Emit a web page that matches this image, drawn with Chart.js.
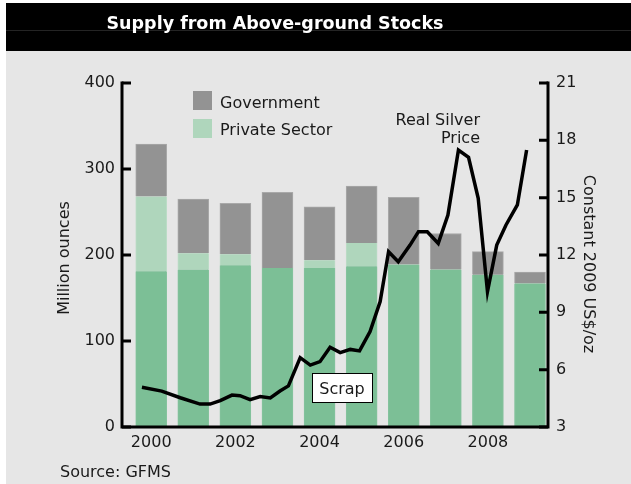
<!DOCTYPE html>
<html><head><meta charset="utf-8">
<script src="https://cdn.jsdelivr.net/npm/chart.js@4"></script>
<style>html,body{margin:0;padding:0;background:#fff;overflow:hidden}canvas{display:block}</style>
</head><body>
<canvas id="c" width="631" height="484"></canvas>
<script>
// ---- data ----
const years = [2000, 2001, 2002, 2003, 2004, 2005, 2006, 2007, 2008, 2009];
const scrap = [181, 183, 188, 185, 185, 187, 189, 183, 177, 167];
const privateSector = [87, 19, 13, 0, 9, 27, 0, 0, 0, 0];
const government = [61, 63, 59, 88, 62, 66, 78, 42, 27, 13];

const priceX = [1999.78, 2000.25, 2000.69, 2001.16, 2001.40, 2001.64, 2001.92, 2002.11, 2002.35, 2002.59,
  2002.83, 2003.06, 2003.26, 2003.54, 2003.78, 2004.01, 2004.25, 2004.49, 2004.73, 2004.95,
  2005.20, 2005.44, 2005.64, 2005.87, 2006.15, 2006.35, 2006.56, 2006.82, 2007.05, 2007.30,
  2007.54, 2007.77, 2007.99, 2008.21, 2008.43, 2008.70, 2008.92];
const priceY = [5.08, 4.88, 4.53, 4.20, 4.20, 4.38, 4.67, 4.64, 4.43, 4.59,
  4.52, 4.88, 5.15, 6.63, 6.24, 6.42, 7.17, 6.89, 7.06, 6.98,
  7.99, 9.56, 12.17, 11.65, 12.52, 13.22, 13.22, 12.61, 14.09, 17.49,
  17.11, 14.97, 10.08, 12.52, 13.57, 14.62, 17.49];

const xTicks = [2000, 2002, 2004, 2006, 2008];
const leftTicks = [0, 100, 200, 300, 400];
const rightTicks = [3, 6, 9, 12, 15, 18, 21];

const titleText = 'Supply from Above-ground Stocks';
const leftTitle = 'Million ounces';
const rightTitle = 'Constant 2009 US$/oz';
const sourceText = 'Source: GFMS';

// ---- styles ----
const FONT = '"DejaVu Sans", Verdana, sans-serif';
const C_SCRAP = '#7cbf96';
const C_PRIV = '#afd6bc';
const C_GOV = '#939393';
const TXT = '#1a1a1a';
const FS = 16;

const deco = {
  id: 'deco',
  beforeDraw(chart) {
    const ctx = chart.ctx;
    ctx.save();
    ctx.fillStyle = '#ffffff'; ctx.fillRect(0, 0, 631, 484);
    ctx.fillStyle = '#e6e6e6'; ctx.fillRect(6, 3, 625, 481);
    ctx.fillStyle = '#000000'; ctx.fillRect(6, 3, 625, 48);
    ctx.fillStyle = '#242424'; ctx.fillRect(6, 30, 625, 1);
    ctx.fillStyle = '#ffffff';
    ctx.font = 'bold 17.5px ' + FONT;
    ctx.textAlign = 'center'; ctx.textBaseline = 'alphabetic';
    ctx.fillText(titleText, 275, 29);
    ctx.restore();
  },
  afterDraw(chart) {
    const ctx = chart.ctx;
    const a = chart.chartArea;
    const yS = chart.scales.y, y2S = chart.scales.y2;
    ctx.save();
    // axes
    ctx.strokeStyle = '#000'; ctx.lineWidth = 3; ctx.lineCap = 'butt';
    ctx.beginPath();
    ctx.moveTo(a.left, a.top - 1.5); ctx.lineTo(a.left, a.bottom);
    ctx.lineTo(a.right, a.bottom); ctx.lineTo(a.right, a.top - 1.5);
    ctx.stroke();
    ctx.beginPath();
    leftTicks.forEach(v => { const y = yS.getPixelForValue(v); ctx.moveTo(a.left, y); ctx.lineTo(a.left + 9, y); });
    rightTicks.forEach(v => { const y = y2S.getPixelForValue(v); ctx.moveTo(a.right, y); ctx.lineTo(a.right - 9, y); });
    ctx.stroke();

    ctx.fillStyle = TXT;
    ctx.font = FS + 'px ' + FONT;
    ctx.textBaseline = 'alphabetic';
    // legend
    ctx.fillStyle = C_GOV; ctx.fillRect(193, 91, 19, 19);
    ctx.fillStyle = C_PRIV; ctx.fillRect(193, 119, 19, 19);
    ctx.fillStyle = TXT; ctx.textAlign = 'left';
    ctx.fillText('Government', 220, 107.5);
    ctx.fillText('Private Sector', 220, 135.3);
    // Real Silver Price label
    ctx.textAlign = 'right';
    ctx.fillText('Real Silver', 480, 125);
    ctx.fillText('Price', 480, 143.3);
    // Scrap box
    ctx.fillStyle = '#ffffff'; ctx.fillRect(312, 373.5, 60, 29);
    ctx.strokeStyle = '#000'; ctx.lineWidth = 1; ctx.strokeRect(312.5, 373.5, 60, 29);
    ctx.fillStyle = TXT; ctx.textAlign = 'center';
    ctx.fillText('Scrap', 342, 393.5);
    // source
    ctx.textAlign = 'left';
    ctx.fillText(sourceText, 60, 476.7);
    // axis titles
    ctx.textAlign = 'center'; ctx.textBaseline = 'middle';
    ctx.save(); ctx.translate(65, 258); ctx.rotate(-Math.PI / 2); ctx.fillText(leftTitle, 0, 0); ctx.restore();
    ctx.save(); ctx.translate(588, 264); ctx.rotate(Math.PI / 2); ctx.fillText(rightTitle, 0, 0); ctx.restore();
    ctx.restore();
  }
};

const pts = (xs, ys) => xs.map((x, i) => ({ x: x, y: ys[i] }));
const sideBorder = { left: 1, right: 1, top: 0, bottom: 0 };
const topBorder = { left: 1, right: 1, top: 1, bottom: 0 };

new Chart(document.getElementById('c'), {
  type: 'bar',
  data: {
    datasets: [
      { type: 'bar', label: 'Scrap', data: pts(years, scrap), backgroundColor: C_SCRAP, borderColor: '#86c39e', borderWidth: sideBorder, borderSkipped: false, barThickness: 31, order: 1, yAxisID: 'y', xAxisID: 'x' },
      { type: 'bar', label: 'Private Sector', data: pts(years, privateSector), backgroundColor: C_PRIV, borderColor: '#bcdcc6', borderWidth: sideBorder, borderSkipped: false, barThickness: 31, order: 1, yAxisID: 'y', xAxisID: 'x' },
      { type: 'bar', label: 'Government', data: pts(years, government), backgroundColor: C_GOV, borderColor: '#a9a9a9', borderWidth: topBorder, borderSkipped: false, barThickness: 31, order: 1, yAxisID: 'y', xAxisID: 'x' },
      { type: 'line', label: 'Real Silver Price', data: pts(priceX, priceY), borderColor: '#000', borderWidth: 3.5, pointRadius: 0, tension: 0, fill: false, order: 0, yAxisID: 'y2', xAxisID: 'x' }
    ]
  },
  options: {
    responsive: false,
    devicePixelRatio: 1,
    animation: false,
    events: [],
    layout: { padding: { top: 83, left: 0, right: 0, bottom: 0 } },
    plugins: { legend: { display: false }, title: { display: false }, tooltip: { enabled: false } },
    scales: {
      x: {
        type: 'linear', position: 'bottom', stacked: true, offset: false,
        min: 1999.306, max: 2009.428,
        afterBuildTicks: s => { s.ticks = xTicks.map(v => ({ value: v })); },
        afterFit: s => { s.height = 57; },
        grid: { display: false, drawTicks: false, offset: false }, border: { display: false },
        ticks: { callback: v => String(v), autoSkip: false, maxRotation: 0, padding: 6, color: TXT, font: { family: FONT, size: FS } }
      },
      y: {
        type: 'linear', position: 'left', stacked: true, min: 0, max: 400,
        afterBuildTicks: s => { s.ticks = leftTicks.map(v => ({ value: v })); },
        afterFit: s => { s.width = 122; },
        grid: { display: false, drawTicks: false }, border: { display: false },
        ticks: { callback: v => String(v), padding: 7, color: TXT, font: { family: FONT, size: FS } }
      },
      y2: {
        type: 'linear', position: 'right', stacked: false, min: 3, max: 21,
        afterBuildTicks: s => { s.ticks = rightTicks.map(v => ({ value: v })); },
        afterFit: s => { s.width = 83; },
        grid: { display: false, drawTicks: false }, border: { display: false },
        ticks: { callback: v => String(v), padding: 8, color: TXT, font: { family: FONT, size: FS } }
      }
    }
  },
  plugins: [deco]
});
</script>
</body></html>
